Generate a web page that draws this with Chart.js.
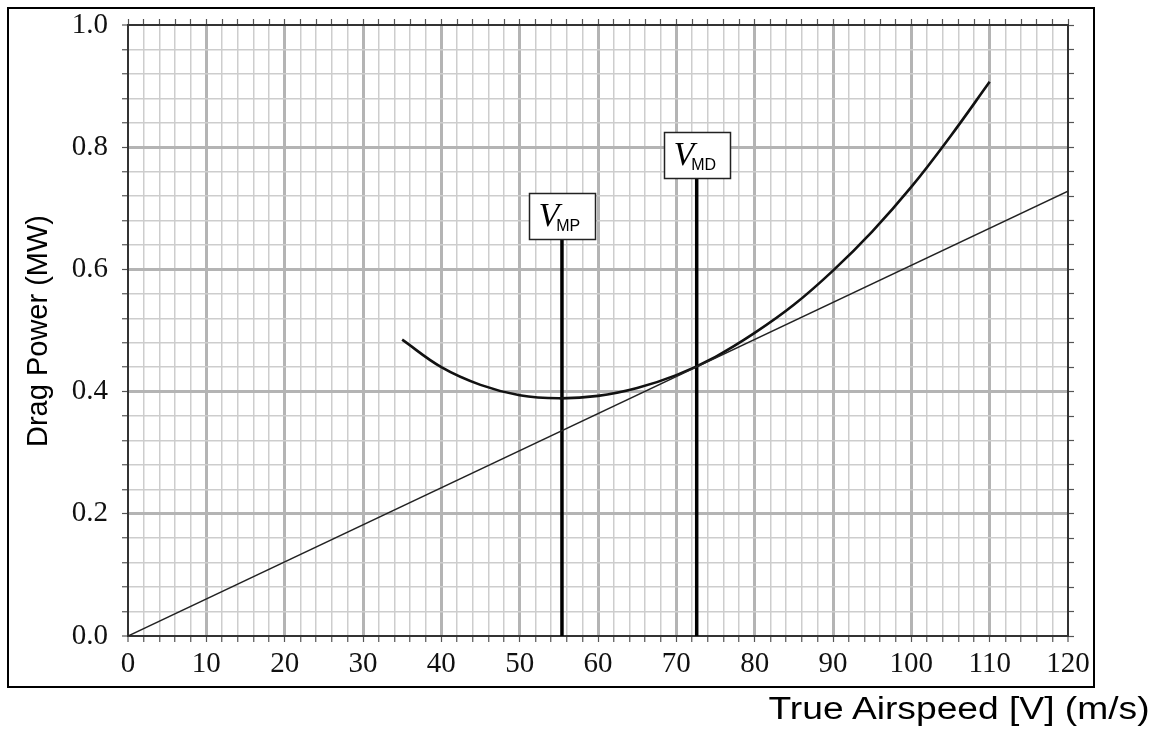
<!DOCTYPE html>
<html>
<head>
<meta charset="utf-8">
<title>Drag Power vs True Airspeed</title>
<script src="https://cdn.jsdelivr.net/npm/chart.js@4.4.1/dist/chart.umd.min.js"></script>
<style>
    body { margin: 0; background: #fff; }
    #wrap { position: relative; width: 1160px; height: 736px; overflow: hidden; }
    #frame {
        position: absolute; left: 7px; top: 7px; width: 1088px; height: 681px;
        border: 2px solid #000; box-sizing: border-box; pointer-events: none;
    }
    #xTitle {
        position: absolute; right: 10px; top: 693px;
        font: 31px "Liberation Sans", Arial, sans-serif; line-height: 31px; color: #000;
        white-space: nowrap; transform: scaleX(1.2); transform-origin: right center;
    }
    #yTitle {
        position: absolute; left: 37px; top: 331px;
        font: 29px "Liberation Sans", Arial, sans-serif; color: #000;
        white-space: nowrap; transform: translate(-50%, -50%) rotate(-90deg);
    }
</style>
</head>
<body>
<div id="wrap">
    <canvas id="dragChart" width="1160" height="736"></canvas>
    <div id="frame"></div>
    <div id="yTitle">Drag Power (MW)</div>
    <div id="xTitle">True Airspeed [V] (m/s)</div>
</div>
<script>
// Values
const curveSpeeds = [35, 40, 45, 50, 55, 60, 65, 70, 75, 80, 85, 90, 95, 100, 105, 110];
const curvePower  = [0.485, 0.440, 0.411, 0.394, 0.389, 0.393, 0.406, 0.427, 0.457, 0.496, 0.542, 0.598, 0.662, 0.735, 0.818, 0.907];

const lineSpeeds = [0, 120];
const linePower  = [0, 0.728];

const markerNames  = ['MP', 'MD'];
const markerSpeeds = [55.4, 72.6];
const markerTops   = [0.65, 0.75];

const xLabelTicks = [0, 10, 20, 30, 40, 50, 60, 70, 80, 90, 100, 110, 120];
const yLabelTicks = [0.0, 0.2, 0.4, 0.6, 0.8, 1.0];

const MAJOR = '#b4b4b4';
const MINOR = '#cdcdcd';
const EDGE = '#333';

function nearAny(v, list) {
    return list.some(t => Math.abs(t - v) < 1e-6);
}

function gridStyle(labels, lo, hi) {
    return {
        color: c => {
            const v = c.tick.value;
            if (Math.abs(v - lo) < 1e-6 || Math.abs(v - hi) < 1e-6) return EDGE;
            return nearAny(v, labels) ? MAJOR : MINOR;
        },
        lineWidth: c => {
            const v = c.tick.value;
            if (Math.abs(v - lo) < 1e-6 || Math.abs(v - hi) < 1e-6) return 2;
            return nearAny(v, labels) ? 3 : 1.5;
        },
        tickColor: '#555',
        tickLength: 6,
        tickWidth: 1.2
    };
}

// fixed axis sizes so the plot area lands where the reference has it
function fixSize(prop, size) {
    return s => {
        s[prop] = size;
        s.paddingTop = 0; s.paddingBottom = 0;
        s.paddingLeft = 0; s.paddingRight = 0;
    };
}

// V_MP / V_MD label boxes on top of the vertical lines
const markerBoxes = {
    id: 'markerBoxes',
    afterDatasetsDraw(chart) {
        const ctx = chart.ctx;
        const xs = chart.scales.x, ys = chart.scales.y;
        markerNames.forEach((name, i) => {
            const px = xs.getPixelForValue(markerSpeeds[i]);
            const py = ys.getPixelForValue(markerTops[i]);
            const w = 66, h = 46;
            const left = Math.round(px - w / 2) + 0.5;
            const top = Math.round(py - h) + 0.5;
            ctx.save();
            ctx.fillStyle = '#fff';
            ctx.fillRect(left, top, w, h);
            ctx.strokeStyle = '#222';
            ctx.lineWidth = 1.5;
            ctx.strokeRect(left, top, w, h);
            ctx.fillStyle = '#000';
            ctx.textBaseline = 'alphabetic';
            ctx.font = 'italic 34px "Liberation Serif"';
            ctx.fillText('V', left + 9, top + 32);
            const vw = ctx.measureText('V').width;
            ctx.font = '16px "Liberation Sans"';
            ctx.fillText(name, left + 9 + vw - 3, top + 37);
            ctx.restore();
        });
    }
};

const curveData = curveSpeeds.map((v, i) => ({ x: v, y: curvePower[i] }));
const lineData = lineSpeeds.map((v, i) => ({ x: v, y: linePower[i] }));
const markerSets = markerSpeeds.map((v, i) => ({
    data: [{ x: v, y: 0 }, { x: v, y: markerTops[i] }],
    borderColor: '#000',
    borderWidth: 3.5,
    pointRadius: 0
}));

const ctx = document.getElementById('dragChart').getContext('2d');
new Chart(ctx, {
    type: 'line',
    data: {
        datasets: [
            { data: lineData, borderColor: '#222', borderWidth: 1.5, pointRadius: 0 },
            { data: curveData, borderColor: '#111', borderWidth: 2.6, pointRadius: 0, tension: 0.4 },
            ...markerSets
        ]
    },
    options: {
        responsive: false,
        animation: false,
        devicePixelRatio: 1,
        layout: { padding: 0 },
        plugins: { legend: { display: false }, tooltip: { enabled: false } },
        scales: {
            x: {
                type: 'linear', position: 'bottom', min: 0, max: 120,
                afterFit: fixSize('height', 100),
                ticks: {
                    stepSize: 2, autoSkip: false, maxRotation: 0, padding: 5, color: '#111',
                    font: { family: '"Liberation Serif"', size: 29 },
                    callback: v => nearAny(v, xLabelTicks) ? String(Math.round(v)) : ''
                },
                grid: gridStyle(xLabelTicks, 0, 120),
                border: { color: EDGE, width: 2 }
            },
            xTop: {
                type: 'linear', position: 'top', min: 0, max: 120,
                afterFit: fixSize('height', 25),
                ticks: { stepSize: 2, display: false },
                grid: { drawOnChartArea: false, tickColor: '#555', tickLength: 6, tickWidth: 1.2 },
                border: { color: EDGE, width: 2 }
            },
            y: {
                type: 'linear', position: 'left', min: 0, max: 1,
                afterFit: fixSize('width', 128),
                ticks: {
                    stepSize: 0.04, autoSkip: false, padding: 14, color: '#111',
                    font: { family: '"Liberation Serif"', size: 29 },
                    callback: v => nearAny(v, yLabelTicks) ? v.toFixed(1) : ''
                },
                grid: gridStyle(yLabelTicks, 0, 1),
                border: { color: EDGE, width: 2 }
            },
            yRight: {
                type: 'linear', position: 'right', min: 0, max: 1,
                afterFit: fixSize('width', 92),
                ticks: { stepSize: 0.04, display: false },
                grid: { drawOnChartArea: false, tickColor: '#555', tickLength: 6, tickWidth: 1.2 },
                border: { color: EDGE, width: 2 }
            }
        }
    },
    plugins: [markerBoxes]
});
</script>
</body>
</html>
